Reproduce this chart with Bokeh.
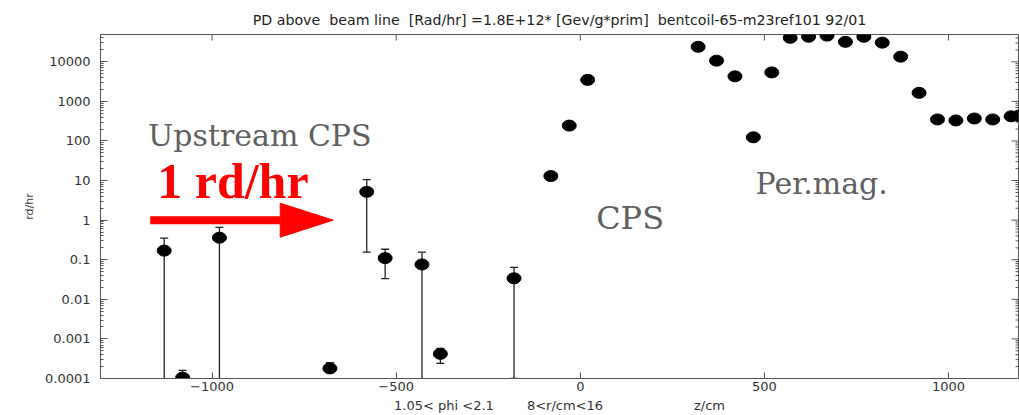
import math
from bokeh.plotting import figure
from bokeh.models import Range1d, FixedTicker, Label
from bokeh.embed import file_html
from bokeh.resources import INLINE

# Dose rate along the beam line, z in cm
z_cm = [-1130, -1080, -980, -680, -580, -530, -430, -380, -180, -80, -30, 20,
        320, 370, 420, 470, 520, 570, 620, 670, 720, 770, 820, 870, 920, 970,
        1020, 1070, 1120, 1170, 1190]
dose = [0.17, 1.05e-4, 0.36, 1.8e-4, 5.2, 0.11, 0.076, 4.2e-4, 0.034, 13, 245, 3500,
        24000, 10700, 4300, 124, 5400, 40500, 43000, 46000, 32000, 43000, 30500,
        13500, 1650, 350, 330, 370, 350, 420, 430]

# Statistical errors that reach beyond the marker size
err_z = [-1130, -1080, -980, -680, -580, -530, -430, -380, -180]
err_lo = [1e-6, 7e-5, 1e-6, 1.4e-4, 0.155, 0.0335, 1e-6, 2.4e-4, 1.0e-4]
err_hi = [0.35, 1.6e-4, 0.66, 2.5e-4, 10.6, 0.184, 0.155, 5.8e-4, 0.064]

x_ticks = [-1000, -500, 0, 500, 1000]
y_ticks = [1e-4, 1e-3, 1e-2, 1e-1, 1, 10, 100, 1000, 10000]
y_tick_labels = ["0.0001", "0.001", "0.01", "0.1", "1", "10", "100", "1000", "10000"]

X_MIN, X_MAX = -1303, 1190
Y_MIN, Y_MAX = 1e-4, 4.9e4

NB = "\u00a0"
TITLE = ("PD above" + NB * 2 + "beam line" + NB * 2 + "[Rad/hr] =1.8E+12* [Gev/g*prim]"
         + NB * 2 + "bentcoil-65-m23ref101 92/01")
X_LABEL = "1.05< phi <2.1" + NB * 8 + "8<r/cm<16" + NB * 22 + "z/cm"

W, H = 1019, 415
BORDER_L, BORDER_R, BORDER_T, BORDER_B = 100, 1, 34, 37

p = figure(width=W, height=H, y_axis_type="log",
           x_range=Range1d(X_MIN, X_MAX), y_range=Range1d(Y_MIN, Y_MAX),
           output_backend="svg", toolbar_location=None,
           min_border_left=BORDER_L, min_border_right=BORDER_R,
           min_border_top=BORDER_T, min_border_bottom=BORDER_B)

p.background_fill_color = "white"
p.border_fill_color = "white"
p.grid.visible = False
p.outline_line_color = "#555555"
p.outline_line_width = 1

p.title.text = TITLE
p.title.align = "center"
p.title.text_font = "DejaVu Sans"
p.title.text_font_size = "14.2px"
p.title.text_font_style = "normal"
p.title.text_color = "#222222"
p.title.standoff = 14

TICK_FONT = "DejaVu Sans"
TICK_COLOR = "#333333"
AX_COLOR = "#555555"

xa = p.xaxis[0]
xa.ticker = FixedTicker(ticks=x_ticks)
xa.major_tick_in = 6
xa.major_tick_out = 0
xa.minor_tick_line_color = None
xa.axis_line_color = AX_COLOR
xa.major_tick_line_color = AX_COLOR
xa.major_label_text_font = TICK_FONT
xa.major_label_text_font_size = "13px"
xa.major_label_text_color = TICK_COLOR
xa.major_label_standoff = 3
xa.axis_label = X_LABEL
xa.axis_label_text_font = TICK_FONT
xa.axis_label_text_font_size = "13px"
xa.axis_label_text_font_style = "normal"
xa.axis_label_text_color = "#333333"
xa.axis_label_standoff = 4

minor = [m * 10 ** e for e in range(-4, 5) for m in range(2, 10)]
ya = p.yaxis[0]
ya.ticker = FixedTicker(ticks=y_ticks, minor_ticks=minor)
ya.major_label_overrides = dict(zip(y_ticks, y_tick_labels))
ya.major_tick_in = 7
ya.major_tick_out = 0
ya.minor_tick_in = 3
ya.minor_tick_out = 0
ya.axis_line_color = AX_COLOR
ya.major_tick_line_color = AX_COLOR
ya.minor_tick_line_color = AX_COLOR
ya.major_label_text_font = TICK_FONT
ya.major_label_text_font_size = "13px"
ya.major_label_text_color = TICK_COLOR
ya.major_label_standoff = 10
ya.axis_label = "rd/hr"
ya.axis_label_text_font = TICK_FONT
ya.axis_label_text_font_size = "11px"
ya.axis_label_text_font_style = "normal"
ya.axis_label_text_color = "#444444"
ya.axis_label_standoff = 6

# mirrored inward ticks on the top and right frame edges
frame_w = W - BORDER_L - BORDER_R
frame_h = H - BORDER_T - BORDER_B
cm_per_px = (X_MAX - X_MIN) / frame_w
dec_per_px = (math.log10(Y_MAX) - math.log10(Y_MIN)) / frame_h
top_len = 10 ** (-6 * dec_per_px)
p.segment(x0=x_ticks, y0=[Y_MAX] * len(x_ticks), x1=x_ticks,
          y1=[Y_MAX * top_len] * len(x_ticks), line_color=AX_COLOR, line_width=1)
p.segment(x0=[X_MAX] * len(y_ticks), y0=y_ticks, x1=[X_MAX - 7 * cm_per_px] * len(y_ticks),
          y1=y_ticks, line_color=AX_COLOR, line_width=1)
p.segment(x0=[X_MAX] * len(minor), y0=minor, x1=[X_MAX - 3 * cm_per_px] * len(minor),
          y1=minor, line_color=AX_COLOR, line_width=1)

# error bars and caps
p.segment(x0=err_z, y0=err_lo, x1=err_z, y1=err_hi, line_color="#222222", line_width=1.3)
cap_z = list(err_z) + [z for z, lo in zip(err_z, err_lo) if lo >= Y_MIN]
cap_y = list(err_hi) + [lo for lo in err_lo if lo >= Y_MIN]
p.scatter(x=cap_z, y=cap_y, marker="dash", size=8, line_color="#222222", line_width=1.3)

# data points
p.ellipse(x=z_cm, y=dose, width=14, height=11, width_units="screen",
          height_units="screen", fill_color="black", line_color="black")

# annotations
GRAY = "#5f5f5f"
SERIF = "DejaVu Serif"
p.add_layout(Label(x=-1174, y=141, text="Upstream CPS", text_font=SERIF,
                   text_font_size="30px", text_color=GRAY, text_baseline="alphabetic"))
p.add_layout(Label(x=43, y=1.15, text="CPS", text_font=SERIF,
                   text_font_size="32px", text_color=GRAY, text_baseline="alphabetic"))
p.add_layout(Label(x=476, y=8.2, text="Per.mag.", text_font=SERIF,
                   text_font_size="30px", text_color=GRAY, text_baseline="alphabetic"))
p.add_layout(Label(x=-1149, y=9.5, text="1 rd/hr", text_font="Liberation Serif",
                   text_font_size="50px", text_font_style="bold", text_color="red",
                   text_baseline="alphabetic"))

# red arrow marking the 1 rd/hr level
level = 1.0
arrow_start, arrow_tip = -1168, -671
head_len = 53 * cm_per_px
head_half = 10 ** (17 * dec_per_px)
p.segment(x0=[arrow_start], y0=[level], x1=[arrow_tip - head_len], y1=[level],
          line_color="red", line_width=8, line_cap="butt")
p.patch(x=[arrow_tip - head_len, arrow_tip, arrow_tip - head_len],
        y=[level * head_half, level, level / head_half],
        fill_color="red", line_color="red")

open("out.html", "w").write(file_html(p, INLINE))
